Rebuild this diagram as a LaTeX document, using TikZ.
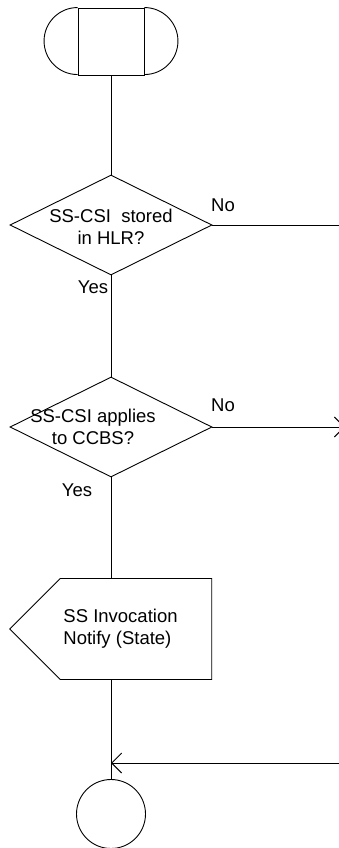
\documentclass[tikz,border=0pt]{standalone}
\usepackage{fontspec}
\setmainfont{Liberation Sans}
\usetikzlibrary{arrows.meta,positioning,shapes.geometric,shapes.symbols}
\tikzset{
  dec/.style={draw,diamond,minimum width=202pt,minimum height=100pt,inner sep=0pt},
  outbox/.style={draw,signal,signal to=west,signal from=nowhere,minimum width=202pt,minimum height=101pt,inner sep=0pt},
  term/.style={draw,circle,minimum size=69pt,inner sep=0pt},
  txt/.style={align=center,inner sep=0pt},
  lbl/.style={inner sep=0pt},
  arr/.style={-{Straight Barb[length=10pt,width=20pt]}},
}
\begin{document}
\begin{tikzpicture}[x=1pt,y=-1pt,line width=0.9pt,
  every node/.style={font=\fontsize{18.5}{22}\selectfont}]
 \useasboundingbox (0,0) rectangle (339,848);
 \clip (0,0) rectangle (339,848);
 % ---- start
 \node[draw,minimum width=66pt,minimum height=67pt,inner sep=0pt] (start) at (111,41.5){};
 \draw (start.north west) arc (90:270:33.5pt);
 \draw (start.north east) arc (90:-90:33.5pt);
 % ---- SS-CSI stored?
 \node[dec] (q1) at (111,225){};
 \node[txt] (q1t) at (111,227){SS-CSI\ \ stored\\in HLR?};
 \node[lbl] (q1no) at (223,205){No};
 \node[lbl] (q1yes) at (93,287){Yes};
 \coordinate (q1r) at (339,225);
 \draw (start.south)--(q1.north);
 \draw (q1.east)--(q1r);
 % ---- applies to CCBS?
 \node[dec] (q2) at (111,427){};
 \node[txt] (q2t) at (93,427){SS-CSI applies\\to CCBS?};
 \node[lbl] (q2no) at (223,405){No};
 \node[lbl] (q2yes) at (77,490){Yes};
 \coordinate (q2r) at (345,427);
 \draw (q1.south)--(q2.north);
 \draw[arr] (q2.east)--(q2r);
 % ---- output
 \node[outbox] (out) at (136,629){};
 \node[txt,anchor=west,align=left] (outt) at (63,629){SS Invocation\\Notify (State)};
 \draw (q2.south)--(q2.south|-out.north);
 % ---- end
 \node[term] (stop) at (111,814){};
 \coordinate (back) at (345,763);
 \coordinate (join) at (111,763);
 \draw (q2.south|-out.south)--(stop.north);
 \draw[arr] (back)--(join);
\end{tikzpicture}
\end{document}
